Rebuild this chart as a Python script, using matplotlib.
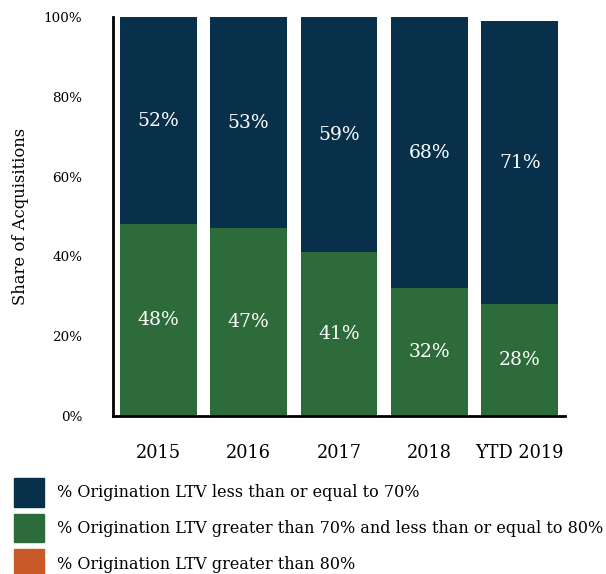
import matplotlib.pyplot as plt
from matplotlib.patches import Patch

plt.rcParams['font.family'] = ['DejaVu Serif']

# data
years = ['2015', '2016', '2017', '2018', 'YTD 2019']
ltv_le70 = [52, 53, 59, 68, 71]
ltv_70_80 = [48, 47, 41, 32, 28]
ltv_gt80 = [0, 0, 0, 0, 0]
legend_labels = ['% Origination LTV less than or equal to 70%',
                 '% Origination LTV greater than 70% and less than or equal to 80%',
                 '% Origination LTV greater than 80%']

navy = '#08304b'
green = '#2e6b3a'
orange = '#c85a27'

fig = plt.figure(figsize=(6.06, 5.74), dpi=100)
ax = fig.add_axes([113/606, 158/574, 452/606, 399/574])

x = range(len(years))
b1 = ax.bar(x, ltv_70_80, width=0.85, color=green)
b2 = ax.bar(x, ltv_le70, width=0.85, bottom=ltv_70_80, color=navy)
bottoms = [a + b for a, b in zip(ltv_70_80, ltv_le70)]
ax.bar(x, ltv_gt80, width=0.85, bottom=bottoms, color=orange)

ax.bar_label(b1, labels=[f'{v}%' for v in ltv_70_80], label_type='center',
             color='white', fontsize=13.5)
ax.bar_label(b2, labels=[f'{v}%' for v in ltv_le70], label_type='center',
             color='white', fontsize=13.5)

ax.set_xlim(-0.5, 4.5)
ax.set_ylim(0, 100)
ax.set_yticks([0, 20, 40, 60, 80, 100])
ax.set_yticklabels([f'{t}%' for t in [0, 20, 40, 60, 80, 100]], fontsize=9.7)
ax.set_xticks(list(x))
ax.set_xticklabels(years, fontsize=12.8)
ax.tick_params(axis='both', length=0)
ax.tick_params(axis='x', pad=20)
ax.tick_params(axis='y', pad=22)
ax.set_ylabel('Share of Acquisitions', fontsize=11.8, labelpad=11)

for s in ['top', 'right']:
    ax.spines[s].set_visible(False)
for s in ['left', 'bottom']:
    ax.spines[s].set_linewidth(2)

handles = [Patch(facecolor=c, edgecolor=c) for c in [navy, green, orange]]
fig.legend(handles, legend_labels, loc='upper left', bbox_to_anchor=(0.023, 0.168),
           frameon=False, fontsize=11.5, handlelength=1.88, handleheight=2.41,
           handletextpad=0.8, labelspacing=0.44, borderaxespad=0, borderpad=0)

fig.savefig('out.png', dpi=100)
